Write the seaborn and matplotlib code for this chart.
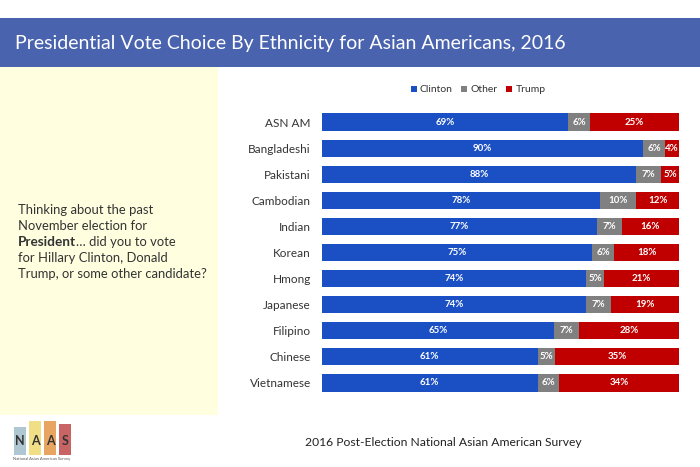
import matplotlib
matplotlib.use("Agg")
import matplotlib.pyplot as plt
from matplotlib.patches import Rectangle
import seaborn as sns
import pandas as pd
import numpy as np

categories = ["ASN AM", "Bangladeshi", "Pakistani", "Cambodian", "Indian", "Korean",
              "Hmong", "Japanese", "Filipino", "Chinese", "Vietnamese"]
clinton = [69, 90, 88, 78, 77, 75, 74, 74, 65, 61, 61]
other = [6, 6, 7, 10, 7, 6, 5, 7, 7, 5, 6]
trump = [25, 4, 5, 12, 16, 18, 21, 19, 28, 35, 34]
series_names = ["Clinton", "Other", "Trump"]
colors = ["#1B4FC4", "#808080", "#C00000"]

sns.set_theme(style="white")
plt.rcParams['font.family'] = ['Lato', 'DejaVu Sans']

df = pd.DataFrame({"cat": categories, "Clinton": clinton, "Other": other, "Trump": trump})
# rounded shares don't always add to 100; bars are drawn as shares of each row's total
tot = df["Clinton"] + df["Other"] + df["Trump"]
df["c1"] = df["Clinton"] / tot * 100
df["c2"] = (df["Clinton"] + df["Other"]) / tot * 100
df["c3"] = tot / tot * 100

W, H = 700, 467
fig = plt.figure(figsize=(7, 4.67), dpi=100)
fig.patch.set_facecolor("white")

# header band
fig.patches.append(Rectangle((0, 1 - 67 / H), 1, 49 / H, transform=fig.transFigure,
                             facecolor="#4A63AE", edgecolor="none", zorder=0))
fig.text(15 / W, 1 - 43 / H, "Presidential Vote Choice By Ethnicity for Asian Americans, 2016",
         color="white", fontsize=14, va="center", ha="left")
# left yellow panel
fig.patches.append(Rectangle((0, 1 - 415 / H), 218 / W, 348 / H, transform=fig.transFigure,
                             facecolor="#FFFFE0", edgecolor="none", zorder=0))

ax = fig.add_axes([322 / W, 1 - 396 / H, 357 / W, 287 / H])
bh = 0.66
sns.barplot(data=df, x="c3", y="cat", color=colors[2], orient="h", width=bh, ax=ax,
            saturation=1, edgecolor="none")
sns.barplot(data=df, x="c2", y="cat", color=colors[1], orient="h", width=bh, ax=ax,
            saturation=1, edgecolor="none")
sns.barplot(data=df, x="c1", y="cat", color=colors[0], orient="h", width=bh, ax=ax,
            saturation=1, edgecolor="none")

for i, row in df.iterrows():
    bounds = [0, row["c1"], row["c2"], row["c3"]]
    vals = [row["Clinton"], row["Other"], row["Trump"]]
    for k, v in enumerate(vals):
        ax.text((bounds[k] + bounds[k + 1]) / 2, i, f"{v}%", ha="center", va="center",
                color="white", fontsize=7, fontweight="bold")

ax.set_xlim(0, 100)
ax.set_ylim(len(categories) - 0.5, -0.5)
ax.set_xlabel("")
ax.set_ylabel("")
ax.set_xticks([])
ax.tick_params(axis="y", length=0, labelsize=8.5, labelcolor="#333333", pad=8)
for sp in ax.spines.values():
    sp.set_visible(False)
ax.set_facecolor("none")

# legend
handles = [Rectangle((0, 0), 1, 1, facecolor=c, edgecolor="none") for c in colors]
fig.legend(handles, series_names, loc="center", bbox_to_anchor=(478 / W, 1 - 90 / H),
           ncol=3, frameon=False, fontsize=7.5, handlelength=0.6, handleheight=0.6,
           handletextpad=0.3, columnspacing=0.8, labelcolor="#333333")

# left question text
lx = 18 / W
ys = [210, 226, 242, 258, 274]
fs = 9.4
tc = "#333333"
fig.text(lx, 1 - ys[0] / H, "Thinking about the past", fontsize=fs, color=tc, va="center")
fig.text(lx, 1 - ys[1] / H, "November election for", fontsize=fs, color=tc, va="center")
t_b = fig.text(lx, 1 - ys[2] / H, "President", fontsize=fs + 0.4, color=tc, va="center",
               fontweight="bold")
fig.text(lx, 1 - ys[3] / H, "for Hillary Clinton, Donald", fontsize=fs, color=tc, va="center")
fig.text(lx, 1 - ys[4] / H, "Trump, or some other candidate?", fontsize=fs, color=tc, va="center")
fig.canvas.draw()
bb = t_b.get_window_extent()
fig.text(bb.x1 / W, 1 - ys[2] / H, "\u2026 did you to vote", fontsize=fs, color=tc,
         va="center")

# footer
fig.text(305 / W, 1 - 443 / H, "2016 Post-Election National Asian American Survey",
         fontsize=8.7, color="#222222", va="center")

# logo
logo = [("N", "#AFC6D3", 14, 427), ("A", "#F1DF86", 29, 421), ("A", "#E8A562", 44, 421),
        ("S", "#C86464", 59, 424)]
for letter, c, x0, y0 in logo:
    fig.patches.append(Rectangle((x0 / W, 1 - 455 / H), 12 / W, (455 - y0) / H,
                                 transform=fig.transFigure, facecolor=c, edgecolor="none"))
    fig.text((x0 + 6) / W, 1 - 441 / H, letter, fontsize=9, fontweight="bold",
             color="#333333", ha="center", va="center")
fig.text(42 / W, 1 - 459 / H, "National Asian American Survey", fontsize=3,
         color="#555555", ha="center", va="center")

fig.savefig("out.png", dpi=100)
